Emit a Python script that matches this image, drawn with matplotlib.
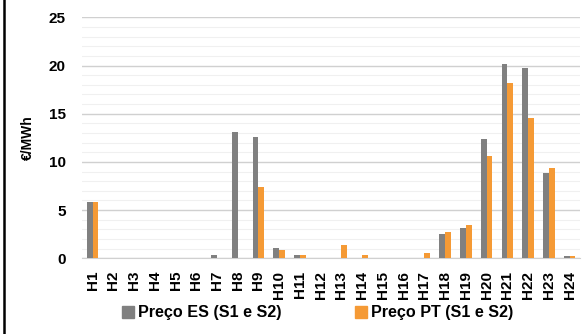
import matplotlib
matplotlib.use('Agg')
from matplotlib import pyplot as plt
from matplotlib.lines import Line2D
from matplotlib.patches import Patch
import numpy as np

plt.rcParams['font.family'] = ['Liberation Sans', 'DejaVu Sans']
plt.rcParams['font.weight'] = 'bold'

horas = ['H' + str(i) for i in range(1, 25)]
preco_es = [5.8, 0.05, 0.05, 0.05, 0.05, 0.05, 0.35, 13.15, 12.6, 1.07, 0.35, 0.02,
            0.05, 0.05, 0.05, 0.05, 0.02, 2.5, 3.17, 12.35, 20.15, 19.75, 8.85, 0.28]
preco_pt = [5.87, 0.02, 0.05, 0.05, 0.05, 0.05, 0.02, 0.05, 7.36, 0.9, 0.3, 0.02,
            1.35, 0.3, 0.05, 0.05, 0.58, 2.76, 3.42, 10.58, 18.2, 14.6, 9.35, 0.28]

cor_es = '#808080'
cor_pt = '#F59A35'

fig = plt.figure(figsize=(5.87, 3.34), dpi=100)
ax = fig.add_axes([0.14, 0.2266, 0.848, 0.7215])

x = np.arange(len(horas))
w = 0.28
ax.bar(x - w/2, preco_es, w, color=cor_es, zorder=3)
ax.bar(x + w/2, preco_pt, w, color=cor_pt, zorder=3)

ax.set_ylim(0, 25)
ax.set_xlim(-0.5, len(horas) - 0.5)
ax.set_yticks([0, 5, 10, 15, 20, 25])
ax.set_yticks(np.arange(0, 26, 1), minor=True)
ax.grid(axis='y', which='major', color='#d0d0d0', linewidth=1.0, zorder=0)
ax.grid(axis='y', which='minor', color='#f0f0f0', linewidth=0.8, zorder=0)
ax.tick_params(axis='y', which='both', length=0, labelsize=11, pad=12)
ax.tick_params(axis='x', length=0, labelsize=11, pad=9)
ax.set_xticks(x)
ax.set_xticklabels(horas, rotation=90, fontweight='bold')
for t in ax.get_yticklabels():
    t.set_fontweight('bold')
for s in ['top', 'right', 'left']:
    ax.spines[s].set_visible(False)
ax.spines['bottom'].set_color('#d0d0d0')
ax.set_ylabel('€/MWh', fontsize=10, fontweight='bold', labelpad=10)

handles = [Patch(color=cor_es, label='Preço ES (S1 e S2)'),
           Patch(color=cor_pt, label='Preço PT (S1 e S2)')]
fig.legend(handles=handles, loc='center', bbox_to_anchor=(0.541, 0.063), ncol=2,
           frameon=False, prop={'size': 11.6, 'weight': 'bold'},
           handlelength=0.75, handleheight=0.75,
           handletextpad=0.2, columnspacing=4.6)

fig.add_artist(Line2D([4/587, 4/587], [0, 1], color='black', linewidth=1.8,
                      transform=fig.transFigure))

plt.savefig('out.png', dpi=100)
